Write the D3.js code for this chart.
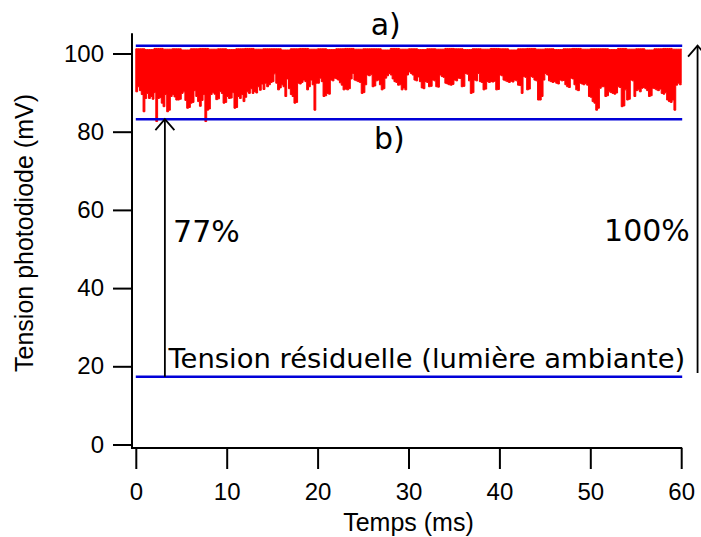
<!DOCTYPE html>
<html><head><meta charset="utf-8">
<script src="https://cdn.jsdelivr.net/npm/d3@7"></script>
<style>body{margin:0;background:#fff}svg{display:block}</style>
</head><body>
<svg id="chart" width="701" height="537"></svg>
<script>
// ---- data ----
const xTicks = [0, 10, 20, 30, 40, 50, 60];
const yTicks = [0, 20, 40, 60, 80, 100];
const xTitle = "Temps (ms)";
const yTitle = "Tension photodiode (mV)";
const refLevels = [102.0, 83.2, 17.3];          // a), b), tension résiduelle
const sampleStep = 0.2;                           // ms between envelope samples
const noiseMin = [
 90.2,91.5,90.5,89.5,85.1,88.5,89.8,88.5,89.0,88.3,
 90.0,82.6,88.5,88.7,87.3,86.4,89.5,85.1,85.5,89.0,
 89.5,88.9,88.1,88.1,88.3,89.8,90.2,88.0,86.0,86.2,
 87.3,87.5,90.5,89.0,87.7,86.5,88.0,89.5,82.6,85.5,
 85.8,89.5,90.0,89.6,88.2,88.4,90.3,89.8,87.3,87.5,
 89.0,88.5,88.6,90.0,86.0,86.2,89.0,88.5,89.5,87.7,
 88.8,90.2,89.8,91.0,89.8,90.3,89.9,91.5,90.6,92.2,
 90.8,92.4,91.5,92.0,92.6,92.8,94.8,92.4,90.7,91.2,
 92.0,91.5,89.0,93.5,91.0,89.5,89.0,87.3,87.5,92.4,
 92.2,92.6,93.2,92.8,90.7,91.5,93.2,92.0,85.5,92.4,
 92.4,93.7,92.8,89.0,89.2,89.8,89.6,93.2,93.0,93.7,
 93.5,93.2,92.5,91.9,90.7,90.9,90.7,91.0,93.5,94.9,
 93.2,93.0,92.8,92.6,89.8,90.0,92.0,94.5,94.3,94.6,
 91.5,91.7,93.0,93.2,92.0,90.7,91.0,93.7,94.3,94.9,
 94.5,93.5,92.8,92.6,91.9,92.0,90.7,91.2,90.7,94.5,
 95.3,94.9,94.5,93.2,93.0,94.0,92.8,91.2,91.0,92.8,
 92.6,91.5,91.6,93.2,93.0,91.5,91.4,94.5,94.1,93.9,
 92.4,92.2,92.0,91.9,92.1,93.2,93.0,93.7,93.6,91.5,
 91.6,94.9,94.7,93.0,89.8,90.0,93.2,93.0,94.9,92.8,
 92.6,90.7,90.9,92.8,92.6,92.8,92.7,92.9,90.7,90.8,
 94.5,94.3,93.2,93.0,92.8,92.6,92.9,92.7,93.2,93.0,
 91.9,91.8,89.8,94.1,93.9,90.7,90.9,94.1,93.9,93.2,
 93.0,88.1,88.1,89.0,93.2,94.9,94.5,93.0,92.8,92.6,
 92.8,92.4,92.2,93.2,93.0,93.1,92.0,91.5,91.3,93.7,
 93.5,92.0,90.7,90.5,92.4,92.2,92.0,92.3,91.9,89.0,
 88.8,87.7,87.3,85.5,86.0,91.1,91.5,91.5,89.0,89.2,
 90.2,90.0,89.8,89.6,89.9,91.5,91.3,86.4,86.6,90.7,
 88.1,88.3,93.2,93.0,89.0,90.5,90.7,90.2,91.1,91.3,
 91.0,90.5,89.0,89.2,91.1,91.0,90.7,90.5,90.9,89.8,
 89.6,90.0,88.1,87.7,87.5,88.1,85.5,91.9,92.4,92.0,
 92.3
];
const noiseMax = [
 101.2,101.0,101.3,101.1,101.2,100.9,101.2,101.3,101.1,101.2,
 101.0,101.2,101.3,101.1,101.2,101.2,100.9,101.2,101.3,101.1,
 101.2,101.0,101.2,101.3,101.1,101.2,101.2,100.9,101.3,101.1,
 101.2,101.0,101.2,101.1,101.3,101.2,101.0,101.2,101.1,101.3,
 101.2,100.9,101.2,101.3,101.1,101.2,101.0,101.2,101.3,101.1,
 101.2,101.2,101.0,101.3,101.1,101.2,100.9,101.2,101.3,101.1,
 101.2
];
const arrows = [
  {t: 3.2,  from: 17.3, to: 83.2},
  {t: 61.8, from: 18.3, to: 102.0}
];
const labels = [
  {text: "a)",   t: 27.5, v: 104.7, anchor: "middle", size: 30},
  {text: "b)",   t: 27.9, v: 75.6,  anchor: "middle", size: 30},
  {text: "77%",  t: 4.1,  v: 51.9,  anchor: "start",  size: 30},
  {text: "100%", t: 60.95,v: 52.0,  anchor: "end",    size: 30},
  {text: "Tension résiduelle (lumière ambiante)", t: 3.6, v: 19.6, anchor: "start", size: 27.4}
];

// ---- scales ----
const x = d3.scaleLinear().domain([0, 60]).range([135.8, 681.2]);
const y = d3.scaleLinear().domain([0, 100]).range([444.5, 53.5]);

const svg = d3.select("#chart");
const axisFont = "'Liberation Sans', Arial, sans-serif";
const annFont = "'DejaVu Sans', Verdana, sans-serif";

// ---- axes ----
const yAxisX = 132, xAxisY = 448;
const gy = svg.append("g").attr("transform", `translate(${yAxisX},0)`)
  .call(d3.axisLeft(y).tickValues(yTicks).tickSize(19).tickPadding(9).tickFormat(d3.format("d")));
gy.select(".domain").remove();
gy.selectAll(".tick line").attr("stroke", "#000").attr("stroke-width", 2);
gy.selectAll(".tick text").attr("font-family", axisFont).attr("font-size", 24).attr("fill", "#000");
svg.append("line").attr("x1", yAxisX).attr("x2", yAxisX)
  .attr("y1", y(105.2)).attr("y2", xAxisY).attr("stroke", "#000").attr("stroke-width", 2);

const gx = svg.append("g").attr("transform", `translate(0,${xAxisY})`)
  .call(d3.axisBottom(x).tickValues(xTicks).tickSize(21).tickPadding(14).tickFormat(d3.format("d")));
gx.select(".domain").remove();
gx.selectAll(".tick line").attr("stroke", "#000").attr("stroke-width", 2);
gx.selectAll(".tick text").attr("font-family", axisFont).attr("font-size", 24).attr("fill", "#000");
svg.append("line").attr("x1", yAxisX - 1).attr("x2", x(60) + 1)
  .attr("y1", xAxisY).attr("y2", xAxisY).attr("stroke", "#000").attr("stroke-width", 2);

svg.append("text").attr("x", x(30)).attr("y", 531).attr("text-anchor", "middle")
  .attr("font-family", axisFont).attr("font-size", 25).text(xTitle);
svg.append("text").attr("transform", `translate(33,233) rotate(-90)`).attr("text-anchor", "middle")
  .attr("font-family", axisFont).attr("font-size", 25).text(yTitle);

// ---- noise signal ----
const samples = noiseMin.map((lo, i) => ({t: i * sampleStep, lo, hi: noiseMax[Math.floor(i * sampleStep)]}));
const area = d3.area().x(d => x(d.t)).y0(d => y(d.lo)).y1(d => y(d.hi)).curve(d3.curveStepAfter);
svg.append("path").datum(samples).attr("d", area)
  .attr("fill", "#ff0000").attr("stroke", "#ff0000").attr("stroke-width", 1);

// ---- reference levels ----
svg.selectAll("line.ref").data(refLevels).enter().append("line").attr("class", "ref")
  .attr("x1", x(0)).attr("x2", x(60) + 1)
  .attr("y1", d => y(d)).attr("y2", d => y(d))
  .attr("stroke", "#0000d8").attr("stroke-width", 2.5);

// ---- arrows ----
const ag = svg.selectAll("g.arrow").data(arrows).enter().append("g").attr("class", "arrow");
ag.append("line").attr("x1", d => x(d.t)).attr("x2", d => x(d.t))
  .attr("y1", d => y(d.from)).attr("y2", d => y(d.to))
  .attr("stroke", "#000").attr("stroke-width", 1.8);
ag.append("path").attr("d", d => {
    const px = x(d.t), py = y(d.to);
    return `M${px - 9.5},${py + 11} L${px},${py} L${px + 9.5},${py + 11}`;
  }).attr("fill", "none").attr("stroke", "#000").attr("stroke-width", 1.8);

// ---- labels ----
labels.forEach(l => {
  svg.append("text").attr("x", x(l.t)).attr("y", y(l.v))
    .attr("text-anchor", l.anchor).attr("font-family", annFont).attr("font-size", l.size)
    .attr("fill", "#000").text(l.text);
});
</script>
</body></html>
